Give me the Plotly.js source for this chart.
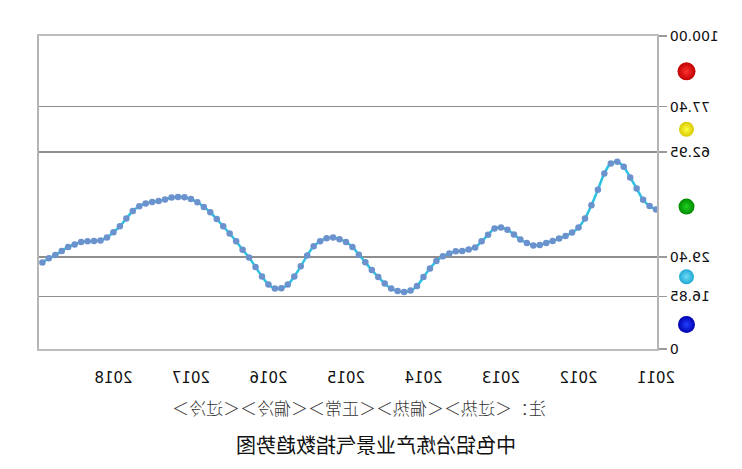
<!DOCTYPE html>
<html>
<head>
<meta charset="utf-8">
<script src="https://cdn.plot.ly/plotly-3.0.1.min.js"></script>
<style>
  html, body { margin: 0; padding: 0; background: #fff; }
  #wrap { width: 742px; height: 469px; transform: scaleX(-1); transform-origin: center; }
  #chart { width: 742px; height: 469px; }
</style>
</head>
<body>
<div id="wrap"><div id="chart"></div></div>
<script>
// Monthly categories, Jan 2011 – Dec 2018
const months = [
  "2011-01","2011-02","2011-03","2011-04","2011-05","2011-06","2011-07","2011-08","2011-09","2011-10","2011-11","2011-12",
  "2012-01","2012-02","2012-03","2012-04","2012-05","2012-06","2012-07","2012-08","2012-09","2012-10","2012-11","2012-12",
  "2013-01","2013-02","2013-03","2013-04","2013-05","2013-06","2013-07","2013-08","2013-09","2013-10","2013-11","2013-12",
  "2014-01","2014-02","2014-03","2014-04","2014-05","2014-06","2014-07","2014-08","2014-09","2014-10","2014-11","2014-12",
  "2015-01","2015-02","2015-03","2015-04","2015-05","2015-06","2015-07","2015-08","2015-09","2015-10","2015-11","2015-12",
  "2016-01","2016-02","2016-03","2016-04","2016-05","2016-06","2016-07","2016-08","2016-09","2016-10","2016-11","2016-12",
  "2017-01","2017-02","2017-03","2017-04","2017-05","2017-06","2017-07","2017-08","2017-09","2017-10","2017-11","2017-12",
  "2018-01","2018-02","2018-03","2018-04","2018-05","2018-06","2018-07","2018-08","2018-09","2018-10","2018-11","2018-12"
];

// Aluminium smelting industry prosperity index
const indexValues = [
  44.6, 45.7, 47.7, 51.3, 54.8, 58.2, 59.8, 59.3, 56.1, 50.9, 45.9, 41.7,
  38.8, 37.2, 36.1, 35.3, 34.5, 33.9, 33.2, 33.1, 33.9, 35.0, 36.6, 38.1,
  38.8, 38.5, 36.5, 34.4, 32.4, 31.8, 31.3, 31.2, 30.5, 29.6, 28.1, 25.7,
  23.0, 20.1, 18.7, 18.2, 18.5, 19.3, 20.9, 23.0, 25.2, 27.7, 30.1, 32.6,
  34.2, 35.1, 35.6, 35.4, 34.4, 32.8, 29.9, 26.4, 23.2, 20.6, 19.4, 19.3,
  20.6, 23.2, 26.2, 29.2, 31.7, 34.4, 36.9, 39.2, 41.5, 43.7, 45.4, 46.9,
  47.9, 48.5, 48.6, 48.4, 47.8, 47.3, 47.0, 46.5, 45.6, 44.1, 41.7, 39.2,
  37.3, 35.6, 34.7, 34.5, 34.4, 34.2, 33.4, 32.6, 31.3, 30.0, 29.0, 27.6
];

// x tick labels
const yearTickCats = ["2011-01","2012-01","2013-01","2014-01","2015-01","2016-01","2017-01","2018-01"];
const yearTickText = ["2011","2012","2013","2014","2015","2016","2017","2018"];

// y thresholds
const yTickVals = [0, 16.85, 29.40, 62.95, 77.40, 100];
const yTickText = ["0", "16.85", "29.40", "62.95", "77.40", "100.00"];

// signal lamps (band colours), top to bottom
const lampLevels = [88.7, 70.2, 45.5, 23.1, 7.8];
const lampOuter  = ["#c00000", "#d8c800", "#008a00", "#1fa8d4", "#0000b0"];
const lampInner  = ["#ff3030", "#ffff40", "#20d020", "#70dcf8", "#2040ff"];
const lampSizes  = [18, 15, 16, 15, 17];

const noteText  = "注：＜过热＞＜偏热＞＜正常＞＜偏冷＞＜过冷＞";
const titleText = "中色铝冶炼产业景气指数趋势图";

const traces = [
  {
    type: "scatter",
    mode: "lines+markers",
    x: months,
    y: indexValues,
    line: { color: "#2cc2e2", width: 2.5, shape: "spline", smoothing: 1 },
    marker: { color: "#6b92cd", size: 6.5 },
    hoverinfo: "x+y",
    showlegend: false
  },
  {
    type: "scatter",
    mode: "markers",
    xaxis: "x2",
    yaxis: "y2",
    x: lampLevels.map(() => 0.5),
    y: lampLevels,
    marker: {
      color: lampOuter,
      size: lampSizes,
      opacity: 1,
      gradient: { type: "radial", color: lampInner },
      line: { width: 0 }
    },
    cliponaxis: false,
    hoverinfo: "skip",
    showlegend: false
  }
];

const L = 20, R = 39, W = 742;
const paperW = W - L - R;
const plotLeftPx = 85;
const layout = {
  width: 742,
  height: 469,
  margin: { l: L, r: R, t: 36, b: 120 },
  paper_bgcolor: "#ffffff",
  plot_bgcolor: "rgba(0,0,0,0)",
  font: { family: "DejaVu Sans, Verdana, sans-serif", color: "#111" },
  title: {
    text: titleText,
    font: { family: "Noto Sans CJK SC", size: 20, color: "#111" },
    xref: "container", yref: "container",
    x: 366 / 742, y: 1 - 446 / 469,
    xanchor: "center", yanchor: "middle"
  },
  xaxis: {
    type: "category",
    domain: [(plotLeftPx - L) / paperW, 1],
    range: [-0.15, 95.52],
    tickmode: "array",
    tickvals: yearTickCats,
    ticktext: yearTickText,
    ticks: "",
    ticklabelstandoff: 14,
    tickfont: { size: 15, color: "#111" },
    showgrid: false,
    zeroline: false,
    showline: true,
    mirror: true,
    linecolor: "#bdbdbd",
    linewidth: 2,
    fixedrange: true
  },
  xaxis2: {
    domain: [(45 - L) / paperW, (66 - L) / paperW],
    range: [0, 1],
    anchor: "y2",
    visible: false,
    showgrid: false,
    fixedrange: true
  },
  yaxis: {
    range: [0, 100],
    tickmode: "array",
    tickvals: yTickVals,
    ticktext: yTickText,
    ticks: "outside",
    ticklen: 8,
    tickwidth: 1.5,
    tickcolor: "#9a9a9a",
    tickfont: { size: 14, color: "#111" },
    showgrid: true,
    gridcolor: "#8e8e8e",
    gridwidth: 1.5,
    zeroline: false,
    showline: true,
    mirror: true,
    linecolor: "#b5b5b5",
    linewidth: 2,
    fixedrange: true
  },
  yaxis2: {
    range: [0, 100],
    anchor: "x2",
    visible: false,
    showgrid: false,
    fixedrange: true
  },
  annotations: [
    {
      text: noteText,
      xref: "paper", yref: "paper",
      x: (383 - L) / paperW, y: (349 - 407) / 313,
      xanchor: "center", yanchor: "middle",
      showarrow: false,
      font: { family: "Noto Sans CJK SC", size: 17, color: "#333", weight: 300 }
    }
  ]
};

Plotly.newPlot("chart", traces, layout, { displayModeBar: false, staticPlot: true });
</script>
</body>
</html>
